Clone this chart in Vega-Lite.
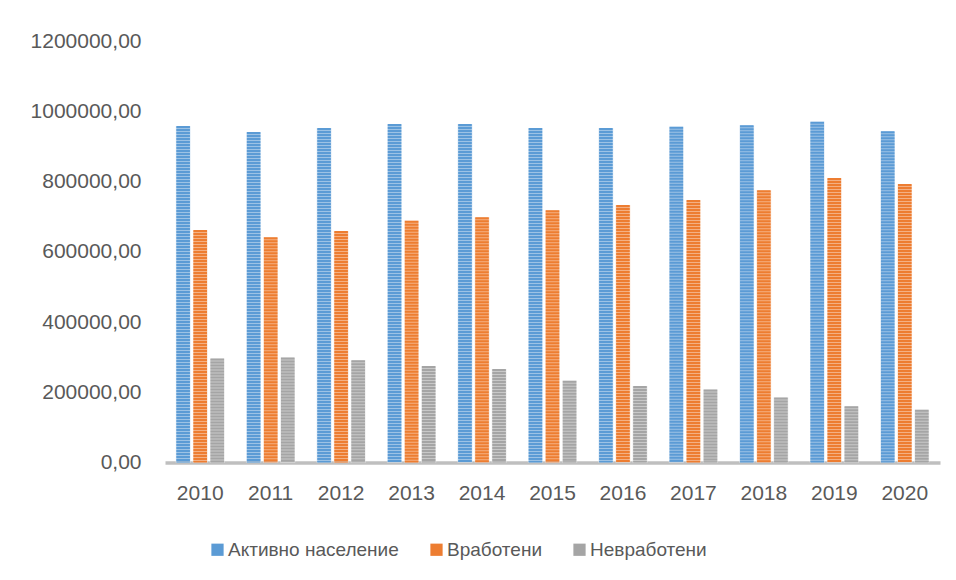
{
  "$schema": "https://vega.github.io/schema/vega-lite/v6.json",
  "width": 775,
  "height": 421.5,
  "autosize": {"type": "none"},
  "padding": {"left": 165, "top": 41, "right": 16, "bottom": 117},
  "background": "white",
  "config": {
    "view": {"stroke": null},
    "font": "Liberation Sans",
    "axis": {"labelFont": "Liberation Sans", "labelColor": "#595959", "labelFontSize": 21},
    "legend": {"labelFont": "Liberation Sans"}
  },
  "data": {
    "values": [
      {"year": "2010", "series": "Активно население", "value": 958000},
      {"year": "2010", "series": "Вработени", "value": 662000},
      {"year": "2010", "series": "Невработени", "value": 296000},
      {"year": "2011", "series": "Активно население", "value": 941000},
      {"year": "2011", "series": "Вработени", "value": 641000},
      {"year": "2011", "series": "Невработени", "value": 299000},
      {"year": "2012", "series": "Активно население", "value": 952000},
      {"year": "2012", "series": "Вработени", "value": 659000},
      {"year": "2012", "series": "Невработени", "value": 291000},
      {"year": "2013", "series": "Активно население", "value": 964000},
      {"year": "2013", "series": "Вработени", "value": 688000},
      {"year": "2013", "series": "Невработени", "value": 275000},
      {"year": "2014", "series": "Активно население", "value": 964000},
      {"year": "2014", "series": "Вработени", "value": 698000},
      {"year": "2014", "series": "Невработени", "value": 266000},
      {"year": "2015", "series": "Активно население", "value": 952000},
      {"year": "2015", "series": "Вработени", "value": 718000},
      {"year": "2015", "series": "Невработени", "value": 233000},
      {"year": "2016", "series": "Активно население", "value": 952000},
      {"year": "2016", "series": "Вработени", "value": 733000},
      {"year": "2016", "series": "Невработени", "value": 218000},
      {"year": "2017", "series": "Активно население", "value": 956000},
      {"year": "2017", "series": "Вработени", "value": 747000},
      {"year": "2017", "series": "Невработени", "value": 208000},
      {"year": "2018", "series": "Активно население", "value": 960000},
      {"year": "2018", "series": "Вработени", "value": 775000},
      {"year": "2018", "series": "Невработени", "value": 185000},
      {"year": "2019", "series": "Активно население", "value": 970000},
      {"year": "2019", "series": "Вработени", "value": 810000},
      {"year": "2019", "series": "Невработени", "value": 160000},
      {"year": "2020", "series": "Активно население", "value": 943000},
      {"year": "2020", "series": "Вработени", "value": 793000},
      {"year": "2020", "series": "Невработени", "value": 150000}
    ]
  },
  "encoding": {
    "x": {
      "field": "year", "type": "nominal", "title": null,
      "scale": {"paddingInner": 0.31, "paddingOuter": 0.155},
      "axis": {"labelAngle": 0, "ticks": false, "domainColor": "#BFBFBF", "domainWidth": 3.5, "labelPadding": 20, "grid": false}
    },
    "xOffset": {
      "field": "series", "type": "nominal",
      "sort": ["Активно население", "Вработени", "Невработени"],
      "scale": {"paddingInner": 0.15, "paddingOuter": 0}
    },
    "y": {
      "field": "value", "type": "quantitative", "title": null,
      "scale": {"domain": [0, 1200000], "nice": false},
      "axis": {
        "values": [0, 200000, 400000, 600000, 800000, 1000000, 1200000],
        "labelExpr": "replace(format(datum.value, '.2f'), '.', ',')",
        "domain": false, "ticks": false, "grid": false, "labelPadding": 24
      }
    },
    "color": {
      "field": "series", "type": "nominal", "title": null,
      "sort": ["Активно население", "Вработени", "Невработени"],
      "scale": {"range": ["#5B9BD5", "#ED7D31", "#A5A5A5"]},
      "legend": {
        "orient": "none", "legendX": 43, "legendY": 499, "direction": "horizontal",
        "symbolType": "square", "symbolSize": 150, "symbolOpacity": 1, "symbolStrokeWidth": 0,
        "labelFontSize": 19, "labelColor": "#595959", "labelOffset": 1, "labelLimit": 400,
        "columnPadding": 28, "padding": 0
      }
    }
  },
  "layer": [
    {"mark": {"type": "bar", "opacity": 0.6, "stroke": "white", "strokeWidth": 0.6, "strokeOpacity": 1}},
    {
      "mark": {"type": "rule", "strokeWidth": 13.5, "strokeDash": [2, 1]},
      "encoding": {"y2": {"datum": 0}}
    }
  ]
}
